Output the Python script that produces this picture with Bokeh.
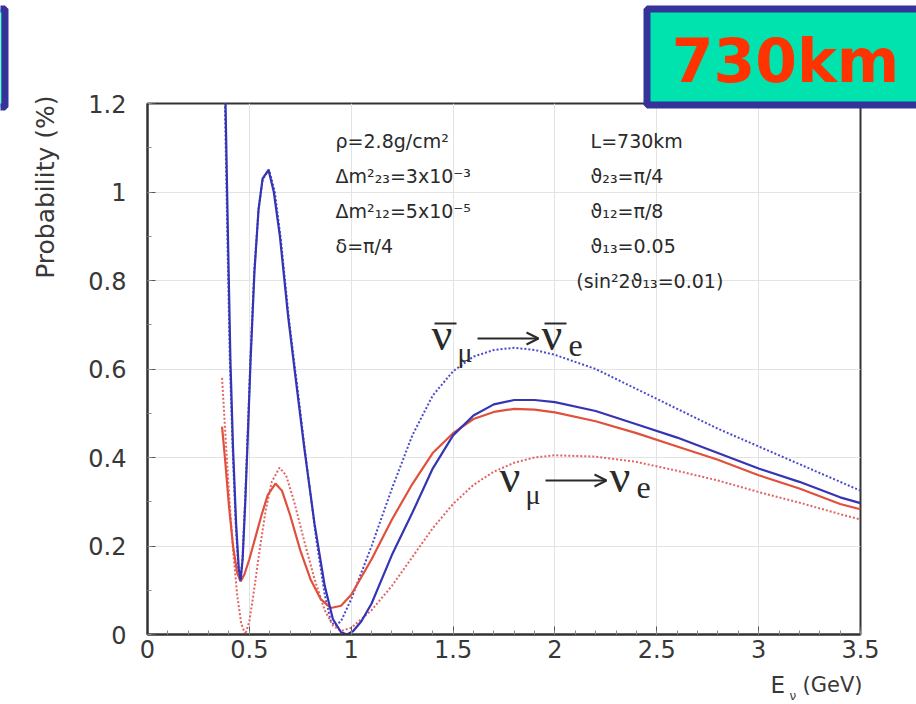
from bokeh.plotting import figure
from bokeh.models import Range1d, FixedTicker, CustomJSTickFormatter, GridBox, Arrow, OpenHead
from bokeh.core.properties import value
from bokeh.embed import file_html
from bokeh.resources import INLINE
import math

# ---------------- data ----------------
# anti-neutrino, solid blue
e_anu_solid = [0.375, 0.383, 0.395, 0.407, 0.42, 0.435, 0.448, 0.457, 0.467, 0.48, 0.495, 0.506, 0.525, 0.545,
               0.565, 0.594, 0.62, 0.65, 0.69, 0.727, 0.77, 0.82, 0.87, 0.91, 0.95, 0.98, 1.01, 1.05, 1.1, 1.2,
               1.3, 1.4, 1.5, 1.6, 1.7, 1.8, 1.9, 2.0, 2.2, 2.4, 2.6, 2.8, 3.0, 3.2, 3.4, 3.5]
p_anu_solid = [1.32, 1.2, 0.9, 0.62, 0.42, 0.25, 0.15, 0.122, 0.17, 0.3, 0.48, 0.62, 0.82, 0.96,
               1.03, 1.05, 1.0, 0.9, 0.72, 0.58, 0.42, 0.25, 0.11, 0.035, 0.005, 0.0, 0.008, 0.03, 0.07, 0.18,
               0.275, 0.375, 0.45, 0.495, 0.52, 0.53, 0.53, 0.525, 0.505, 0.475, 0.445, 0.41, 0.375, 0.345, 0.31, 0.297]

# anti-neutrino, dotted blue
e_anu_dot = [0.372, 0.380, 0.392, 0.404, 0.418, 0.433, 0.446, 0.455, 0.466, 0.479, 0.494, 0.505, 0.524, 0.545,
             0.566, 0.597, 0.625, 0.655, 0.695, 0.735, 0.78, 0.83, 0.87, 0.9, 0.92, 0.95, 1.0, 1.1, 1.2, 1.3,
             1.4, 1.5, 1.6, 1.7, 1.8, 1.9, 2.0, 2.2, 2.4, 2.6, 2.8, 3.0, 3.2, 3.4, 3.5]
p_anu_dot = [1.32, 1.2, 0.9, 0.62, 0.42, 0.25, 0.15, 0.12, 0.17, 0.3, 0.48, 0.62, 0.82, 0.96,
             1.03, 1.05, 1.0, 0.89, 0.71, 0.56, 0.39, 0.21, 0.09, 0.03, 0.02, 0.03, 0.08, 0.2, 0.33, 0.45,
             0.54, 0.595, 0.628, 0.643, 0.648, 0.643, 0.632, 0.6, 0.555, 0.51, 0.465, 0.425, 0.385, 0.345, 0.325]

# neutrino, solid red
e_nu_solid = [0.366, 0.38, 0.40, 0.42, 0.44, 0.457, 0.475, 0.50, 0.53, 0.56, 0.59, 0.628, 0.66, 0.70, 0.75,
              0.80, 0.85, 0.90, 0.95, 1.0, 1.1, 1.2, 1.3, 1.4, 1.5, 1.6, 1.7, 1.8, 1.9, 2.0, 2.2, 2.4, 2.6,
              2.8, 3.0, 3.2, 3.4, 3.5]
p_nu_solid = [0.47, 0.40, 0.29, 0.2, 0.14, 0.12, 0.135, 0.17, 0.22, 0.27, 0.315, 0.341, 0.325, 0.27, 0.19,
              0.125, 0.08, 0.06, 0.065, 0.09, 0.17, 0.26, 0.34, 0.41, 0.455, 0.487, 0.503, 0.51, 0.508, 0.502,
              0.482, 0.455, 0.425, 0.395, 0.36, 0.33, 0.295, 0.283]

# neutrino, dotted red
e_nu_dot = [0.366, 0.38, 0.40, 0.42, 0.44, 0.46, 0.48, 0.50, 0.52, 0.55, 0.58, 0.61, 0.648, 0.68, 0.72, 0.77,
            0.82, 0.87, 0.91, 0.95, 1.0, 1.1, 1.2, 1.3, 1.4, 1.5, 1.6, 1.7, 1.8, 1.9, 2.0, 2.2, 2.4, 2.6, 2.8,
            3.0, 3.2, 3.4, 3.5]
p_nu_dot = [0.58, 0.47, 0.32, 0.19, 0.09, 0.025, 0.0, 0.03, 0.09, 0.19, 0.28, 0.345, 0.377, 0.36, 0.30, 0.21,
            0.125, 0.055, 0.02, 0.008, 0.015, 0.055, 0.11, 0.175, 0.24, 0.295, 0.338, 0.368, 0.388, 0.40, 0.405,
            0.402, 0.39, 0.37, 0.348, 0.322, 0.298, 0.272, 0.26]

x_ticks = [0, 0.5, 1, 1.5, 2, 2.5, 3, 3.5]
y_ticks = [0, 0.2, 0.4, 0.6, 0.8, 1, 1.2]

params_left = ["ρ=2.8g/cm²", "Δm²₂₃=3x10⁻³", "Δm²₁₂=5x10⁻⁵", "δ=π/4"]
params_right = ["L=730km", "ϑ₂₃=π/4", "ϑ₁₂=π/8", "ϑ₁₃=0.05"]
param_extra = "(sin²2ϑ₁₃=0.01)"
baseline_tag = "730km"
y_title = "Probability (%)"
x_title_main, x_title_sub, x_title_unit = "E", "ν", "(GeV)"

# ---------------- styles ----------------
BLUE = "#3434b4"
BLUE_D = "#4a4acc"
RED = "#e0503c"
RED_D = "#e26464"
TXT = "#2a2a2a"
AX = "#383838"
SANS = "DejaVu Sans"
SERIF = "Liberation Serif"
W, H = 916, 704

# ---------------- main chart ----------------
p = figure(width=W, height=H, output_backend="svg", toolbar_location=None,
           x_range=Range1d(0, 3.5), y_range=Range1d(0, 1.2),
           min_border_left=147, min_border_right=56, min_border_top=103, min_border_bottom=70)
p.frame_align = False
p.background_fill_color = "white"
p.border_fill_color = "white"
p.outline_line_color = "#333333"
p.outline_line_width = 2

minor_x = [i / 10 for i in range(0, 36)]
minor_y = [i / 10 for i in range(0, 13)]
p.xaxis.ticker = FixedTicker(ticks=x_ticks, minor_ticks=minor_x)
p.yaxis.ticker = FixedTicker(ticks=y_ticks, minor_ticks=minor_y)
fmt = "return tick.toString()"
p.xaxis.formatter = CustomJSTickFormatter(code=fmt)
p.yaxis.formatter = CustomJSTickFormatter(code=fmt)
for ax in (p.xaxis, p.yaxis):
    ax.axis_line_color = "#333333"
    ax.axis_line_width = 2
    ax.major_tick_in = 8
    ax.major_tick_out = 0
    ax.minor_tick_in = 4
    ax.minor_tick_out = 0
    ax.major_tick_line_color = "#555555"
    ax.minor_tick_line_color = "#888888"
    ax.major_label_text_font = SANS
    ax.major_label_text_font_size = "24px"
    ax.major_label_text_color = AX
p.xaxis.major_label_standoff = 5
p.yaxis.major_label_standoff = 21
p.xgrid.ticker = FixedTicker(ticks=x_ticks)
p.ygrid.ticker = FixedTicker(ticks=y_ticks)
p.grid.grid_line_color = "#e3e3e3"
p.grid.grid_line_width = 1

p.line(e_anu_dot, p_anu_dot, line_color=BLUE_D, line_width=2, line_dash="2 2")
p.line(e_nu_dot, p_nu_dot, line_color=RED_D, line_width=2, line_dash="2 2")
p.line(e_nu_solid, p_nu_solid, line_color=RED, line_width=2.2)
p.line(e_anu_solid, p_anu_solid, line_color=BLUE, line_width=2.2)

rows_y = [1.116, 1.037, 0.958, 0.879]
p.text(x=[0.923] * 4, y=rows_y, text=params_left, text_font=value(SANS), text_font_size="19px",
       text_color=TXT, text_baseline="middle", text_align="left")
p.text(x=[2.175] * 4, y=rows_y, text=params_right, text_font=value(SANS), text_font_size="19px",
       text_color=TXT, text_baseline="middle", text_align="left")
p.text(x=[2.105], y=[0.798], text=[param_extra], text_font=value(SANS), text_font_size="19px",
       text_color=TXT, text_baseline="middle", text_align="left")

# ---------------- overlay in page pixels (titles, channel labels, corner boxes) ----------------
ov = figure(width=W, height=H, output_backend="svg", toolbar_location=None,
            x_range=Range1d(0, W), y_range=Range1d(H, 0), x_axis_type=None, y_axis_type=None,
            min_border=0, min_border_left=0, min_border_right=0, min_border_top=0, min_border_bottom=0)
ov.frame_align = False
ov.background_fill_alpha = 0
ov.border_fill_alpha = 0
ov.outline_line_color = None

# axis titles
ov.text(x=[45], y=[95], text=[y_title], angle=math.pi / 2, text_font=value(SANS), text_font_size="25px",
        text_color=AX, text_align="right", text_baseline="middle")
ov.text(x=[862], y=[684], text=[x_title_unit], text_font=value(SANS), text_font_size="21px",
        text_color=AX, text_align="right", text_baseline="middle")
ov.text(x=[770], y=[684], text=[x_title_main], text_font=value(SANS), text_font_size="23px",
        text_color=AX, text_align="left", text_baseline="middle")
ov.text(x=[789], y=[695], text=[x_title_sub], text_font=value(SANS), text_font_size="12px",
        text_color=AX, text_align="left", text_baseline="middle")

# channel labels: nu-bar_mu -> nu-bar_e  and  nu_mu -> nu_e
def channel(x0, base, bar):
    ov.text(x=[x0, x0 + 110], y=[base - 18, base - 18], text=["ν", "ν"], text_font=value(SERIF),
            text_font_size="46px", text_color=TXT, text_align="left", text_baseline="middle")
    ov.text(x=[x0 + 26], y=[base], text=["μ"], text_font=value(SERIF), text_font_size="28px",
            text_color=TXT, text_align="left", text_baseline="middle")
    ov.text(x=[x0 + 137], y=[base - 7], text=["e"], text_font=value(SERIF), text_font_size="32px",
            text_color=TXT, text_align="left", text_baseline="middle")
    ov.add_layout(Arrow(x_start=x0 + 46, y_start=base - 14, x_end=x0 + 107, y_end=base - 14,
                        line_color=TXT, line_width=2,
                        end=OpenHead(size=12, line_color=TXT, line_width=2)))
    if bar:
        ov.segment(x0=[x0 + 3, x0 + 113], y0=[base - 29, base - 29], x1=[x0 + 25, x0 + 135],
                   y1=[base - 29, base - 29], line_color=TXT, line_width=2)

channel(431, 352, True)
channel(499, 494, False)

# corner boxes
BOX_FILL = "#00e3ae"
BOX_LINE = "#35339a"
ov.quad(left=[646.5, -30], right=[935, 4.5], top=[8.5, 8.5], bottom=[104.5, 106.5],
        fill_color=BOX_FILL, line_color=BOX_LINE, line_width=7)
ov.text(x=[785], y=[60], text=[baseline_tag], text_font=value(SANS), text_font_style="bold",
        text_font_size="60px", text_color="#ff3300", text_align="center", text_baseline="middle")

grid = GridBox(children=[(p, 0, 0), (ov, 0, 0)])
open("out.html", "w").write(file_html(grid, INLINE))
